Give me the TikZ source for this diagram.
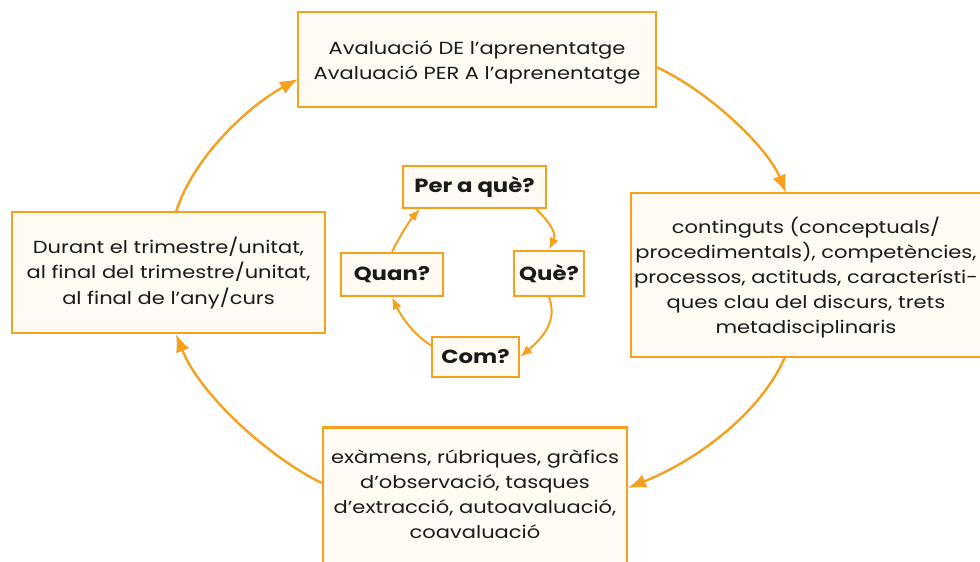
\documentclass[tikz,border=0pt]{standalone}
\usepackage{fontspec}
\setmainfont{Poppins}[FakeStretch=1.2]
\usetikzlibrary{arrows.meta}
\definecolor{orng}{HTML}{F5A11E}
\definecolor{cream}{HTML}{FFFAF2}
\definecolor{ink}{HTML}{1A1A1A}
\begin{document}
\begin{tikzpicture}[x=1pt,y=-1pt,
  bigbox/.style={draw=orng,fill=cream,line width=2.6pt,inner sep=0pt,align=center,
    text=ink,font=\fontsize{17.5}{25.2}\selectfont},
  qbox/.style={draw=orng,fill=cream,line width=2.6pt,inner sep=0pt,align=center,
    text=ink,font=\fontsize{19}{22}\selectfont\bfseries},
  plaintext/.style={text=ink,font=\fontsize{17.5}{25.2}\selectfont,align=center},
  bigarrow/.style={draw=orng,line width=2.4pt,-{Latex[length=18pt,width=14pt]}},
  smallarrow/.style={draw=orng,line width=2pt,-{Latex[length=12pt,width=9.5pt]}}]
\useasboundingbox (0,0) rectangle (980,562);
\begin{scope}
\clip (0,0) rectangle (980,562);
\node[bigbox,minimum width=358pt,minimum height=95pt] (top) at (477,59.5) {};
\node[plaintext] (toptext) at (477,62.5)
  {Avaluació DE l’aprenentatge\\Avaluació PER A l’aprenentatge};
\node[bigbox,minimum width=362pt,minimum height=164pt] (right) at (812,275) {};
\node[plaintext] (righttext) at (806,277.5)
  {continguts (conceptuals/\\procedimentals), competències,\\processos, actituds, característi-\\ques clau del discurs, trets\\metadisciplinaris};
\node[bigbox,minimum width=313pt,minimum height=121pt] (left) at (168.5,272.5) {};
\node[plaintext] (lefttext) at (168.5,273)
  {Durant el trimestre/unitat,\\al final del trimestre/unitat,\\al final de l’any/curs};
\node[bigbox,minimum width=304pt,minimum height=150pt,anchor=north] (bottom) at (475,426) {};
\node[plaintext,anchor=north] (bottomtext) at (475,446)
  {exàmens, rúbriques, gràfics\\d’observació, tasques\\d’extracció, autoavaluació,\\coavaluació};
\end{scope}
\node[qbox,minimum width=143pt,minimum height=42pt] (perque) at (474.5,187) {Per a què?};
\node[qbox,minimum width=70pt,minimum height=45pt] (que) at (549,273.5) {Què?};
\node[qbox,minimum width=102pt,minimum height=43pt] (quan) at (392,274.5) {Quan?};
\node[qbox,minimum width=87pt,minimum height=40pt] (com) at (475.5,357) {Com?};
\coordinate (r0) at (786,193);
\coordinate (b0) at (628,488);
\coordinate (l0) at (176,334);
\coordinate (t0) at (298,79);
\draw[bigarrow] ([yshift=-8pt]top.east) .. controls (710,92) and (768,148) .. (r0);
\draw[bigarrow] (785,357) .. controls (762,410) and (702,458) .. (b0);
\draw[bigarrow] (bottom.west|-323,483) .. controls (270,458) and (200,395) .. (l0);
\draw[bigarrow] (176,212) .. controls (192,160) and (245,108) .. (t0);
\draw[smallarrow] (535,208) .. controls (548,220) and (557,233) .. (que.north);
\draw[smallarrow] (que.south) .. controls (558,322) and (542,338) .. (com.east);
\draw[smallarrow] (432,346) .. controls (415,336) and (402,318) .. (quan.south);
\draw[smallarrow] (quan.north) .. controls (400,236) and (410,220) .. (420,209);
\end{tikzpicture}
\end{document}
